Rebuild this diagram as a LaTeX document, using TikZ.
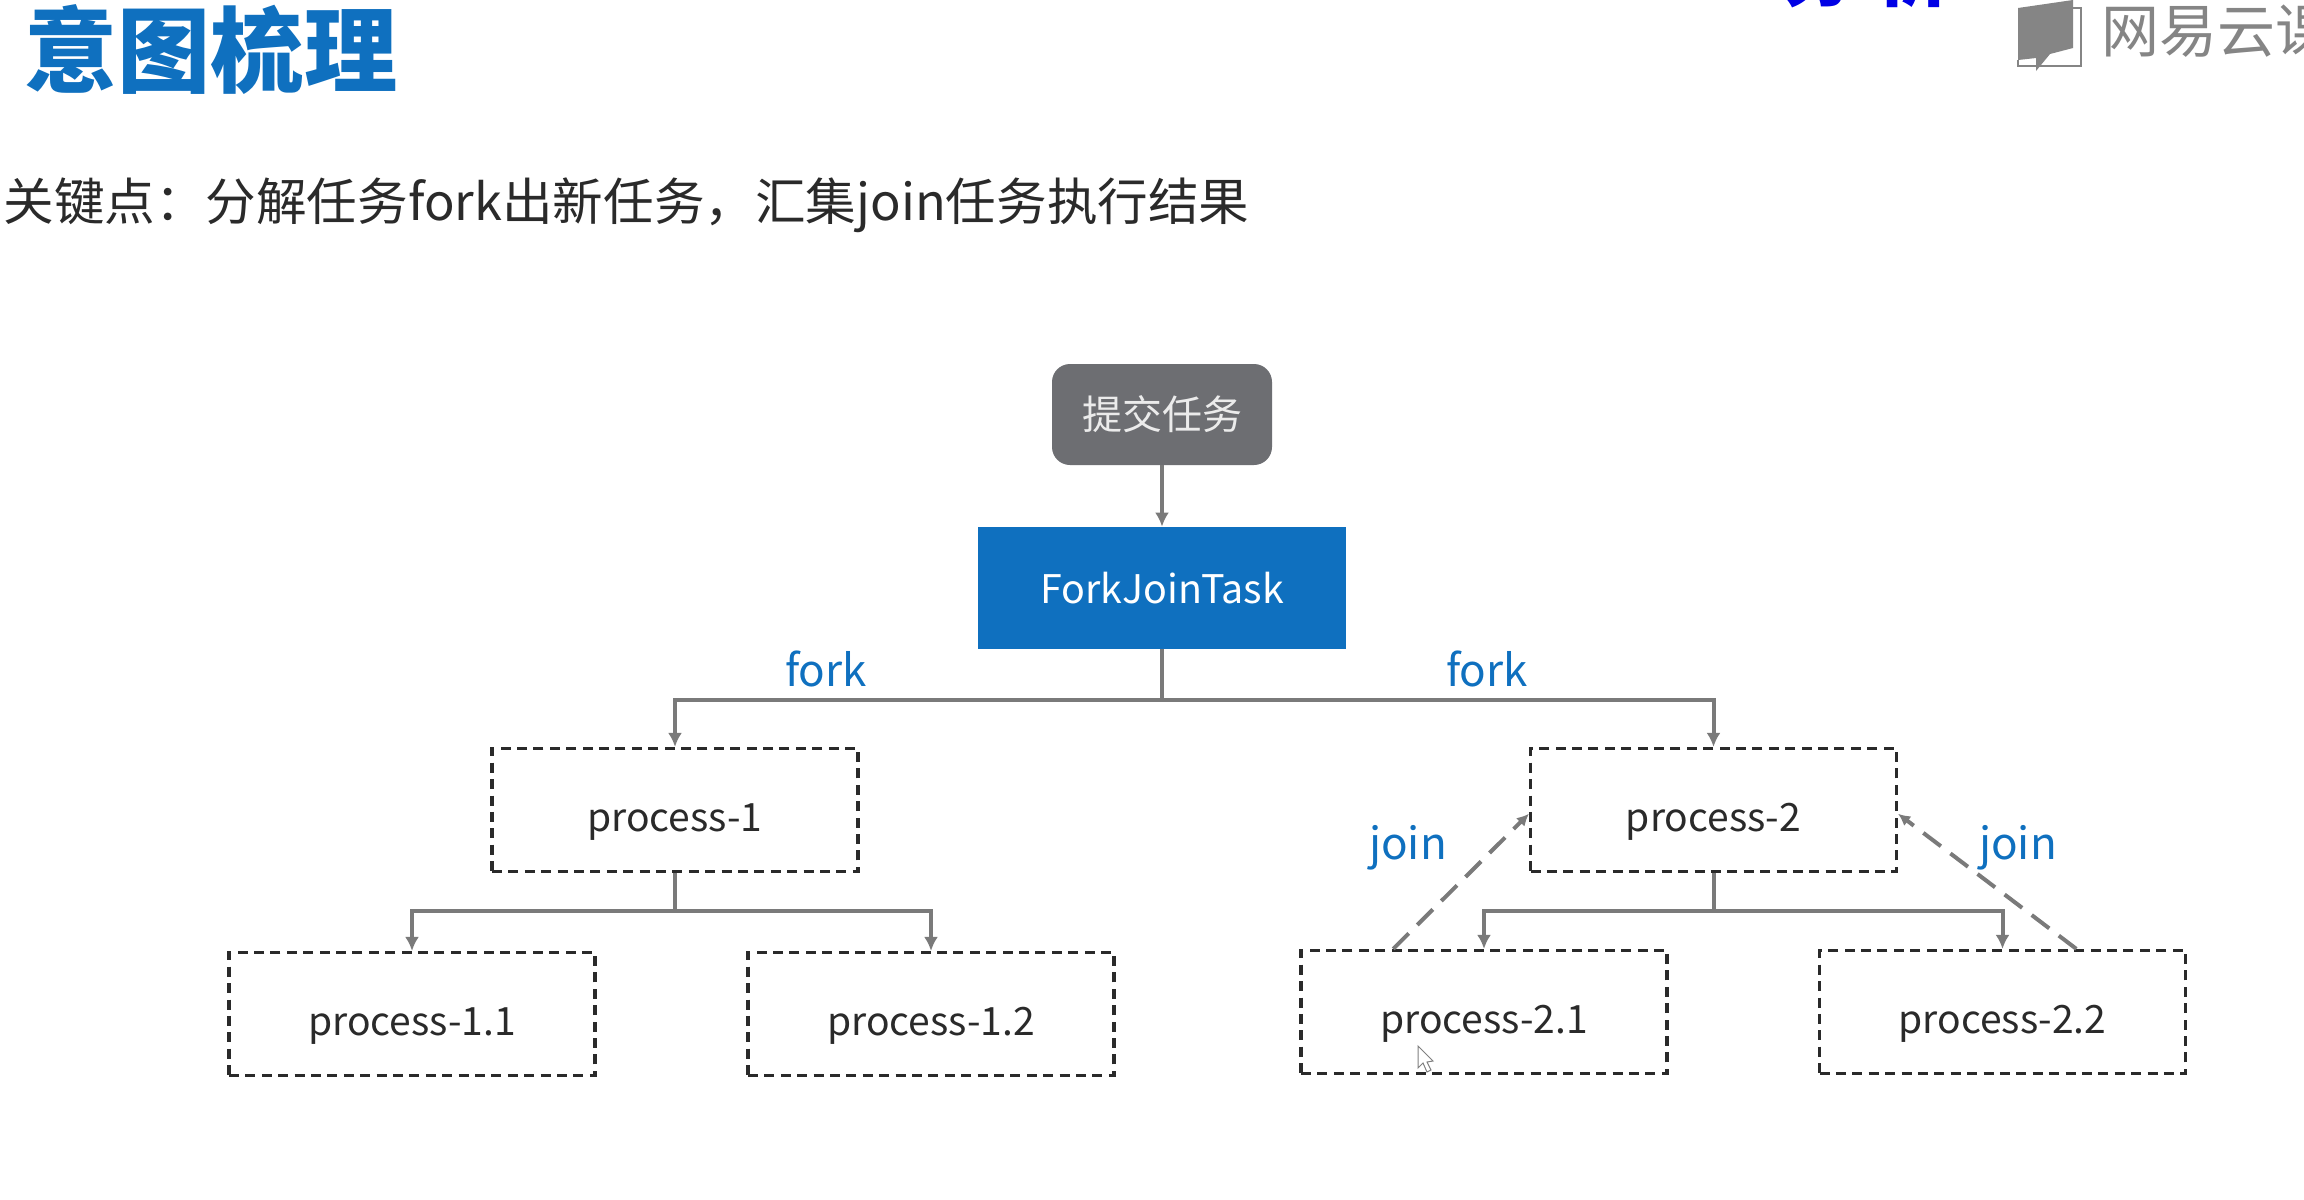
\documentclass[tikz,border=0pt]{standalone}
\usepackage{fontspec}
\setmainfont{Noto Sans CJK SC}
\usetikzlibrary{calc,arrows.meta}
\definecolor{brandblue}{HTML}{0F70BF}
\definecolor{linegray}{HTML}{7A7A7A}
\definecolor{boxgray}{HTML}{6D6E72}
\definecolor{inkdark}{HTML}{2A2A2A}
\definecolor{markgray}{HTML}{858585}
\tikzset{
  x=0.5pt,y=-0.5pt,
  procbox/.style={draw=inkdark,line width=1.6pt,dash pattern=on 5pt off 3.2pt,minimum width=183pt,minimum height=61.5pt,inner sep=0pt,font=\fontsize{19.5}{24}\selectfont,text=inkdark,text height=21pt,text depth=0pt},
  conn/.style={draw=linegray,line width=2pt,-{Latex[length=7pt,width=7pt]}},
  joinconn/.style={draw=linegray,line width=2pt,dash pattern=on 11pt off 6pt,-{Latex[length=6pt,width=6pt]}},
  lab/.style={font=\fontsize{22}{26}\selectfont,text=brandblue,inner sep=0pt},
}
\begin{document}
\begin{tikzpicture}
\useasboundingbox (0,0) rectangle (2304,1200);
\fill[white] (0,0) rectangle (2304,1200);
\begin{scope}
\clip (0,0) rectangle (2304,1200);
\node[anchor=center,inner sep=0pt,text=brandblue,font=\fontsize{46.6}{50}\selectfont\bfseries] (title) at (211,50) {意图梳理};
\node[anchor=west,inner sep=0pt,text=inkdark,font=\fontsize{25.3}{28}\selectfont] (sub) at (3,205) {关键点：分解任务fork出新任务，汇集join任务执行结果};
\node[anchor=center,inner sep=0pt,text=blue!90!black,font=\fontsize{38}{48}\selectfont\bfseries] (cut) at (1866,-28) {分 析};
\node[anchor=west,inner sep=0pt,text=markgray,font=\fontsize{29}{32}\selectfont] (mark) at (2101,31) {网易云课};
\fill[markgray] (2018,8) -- (2073,0) -- (2073,48) -- (2050,54) -- (2036,71) -- (2036,58) -- (2018,60) -- cycle;
\draw[markgray,line width=1.3pt] (2018,60) -- (2018,66) -- (2081,66) -- (2081,8) -- (2073,8);
\end{scope}

\node[fill=boxgray,rounded corners=9pt,minimum width=110pt,minimum height=50.5pt,inner sep=0pt,text=white!92!black,font=\fontsize{20}{24}\selectfont] (submit) at (1162,414.5) {提交任务};
\node[fill=brandblue,minimum width=184pt,minimum height=61pt,inner sep=0pt,text=white,font=\fontsize{19.7}{24}\selectfont] (fjt) at (1162,588) {ForkJoinTask};

\node[procbox] (p1) at (675,810) {process-1};
\node[procbox] (p2) at (1713.5,810) {process-2};
\node[procbox] (p11) at (412,1014) {process-1.1};
\node[procbox] (p12) at (931,1014) {process-1.2};
\node[procbox] (p21) at (1484,1012) {process-2.1};
\node[procbox] (p22) at (2002.5,1012) {process-2.2};

\coordinate (busa) at (1162,700);
\coordinate (busb) at (675,911);
\coordinate (busc) at (1713.5,911);

\draw[conn] (submit.south) -- (fjt.north);
\draw[conn] (fjt.south) -- (busa) -| (p1.north);
\draw[conn] (busa) -| (p2.north);
\draw[conn] (p1.south) -- (busb) -| (p11.north);
\draw[conn] (busb) -| (p12.north);
\draw[conn] (p2.south) -- (busc) -| (p21.north);
\draw[conn] (busc) -| (p22.north);

\coordinate (ja) at ($(p21.north west)!0.254!(p21.north east)$);
\coordinate (jb) at ($(p22.north west)!0.70!(p22.north east)$);
\coordinate (jl) at ($(p2.north west)!0.53!(p2.south west)$);
\coordinate (jr) at ($(p2.north east)!0.53!(p2.south east)$);
\draw[joinconn] (ja) -- (jl);
\draw[joinconn] (jb) -- (jr);

\node[lab] (f1) at (826,669) {fork};
\node[lab] (f2) at (1487,669) {fork};
\node[lab] (j1) at (1408,848) {join};
\node[lab] (j2) at (2018,848) {join};

\draw[draw=gray,fill=white,line width=0.5pt] (1418,1046) -- (1418,1068) -- (1423,1063) -- (1427,1072) -- (1431,1070) -- (1427,1062) -- (1433,1061) -- cycle;
\end{tikzpicture}
\end{document}
